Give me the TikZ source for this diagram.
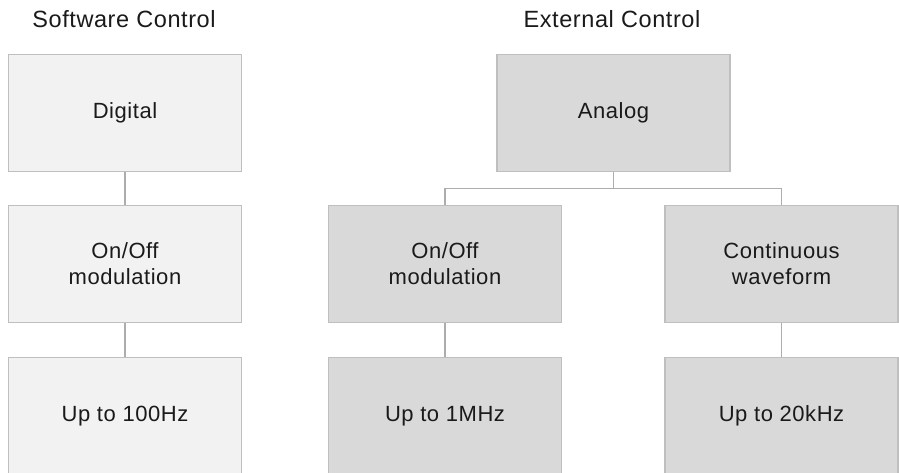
\documentclass[tikz,border=0pt]{standalone}
\usepackage{fontspec}
\setmainfont{Liberation Sans}[LetterSpace=2.5]
\usetikzlibrary{calc}
\definecolor{lightfill}{HTML}{F2F2F2}
\definecolor{darkfill}{HTML}{D9D9D9}
\definecolor{edgegray}{HTML}{BFBFBF}
\definecolor{linkgray}{HTML}{ADADAD}
\definecolor{textdark}{HTML}{1A1A1A}
\begin{document}
\begin{tikzpicture}[x=1pt,y=1pt,
  boxbase/.style={draw=edgegray, line width=1.3pt, minimum width=233pt, minimum height=117pt,
    inner sep=0pt, align=center, text=textdark, font=\fontsize{22}{26}\selectfont},
  softbox/.style={boxbase, fill=lightfill},
  extbox/.style={boxbase, fill=darkfill},
  title/.style={text=textdark, font=\fontsize{23.5}{27}\selectfont, inner sep=0pt},
  link/.style={draw=linkgray, line width=1.1pt}]
\useasboundingbox (0,0) rectangle (899,472);
\begin{scope}
\clip (0,0) rectangle (899,472);
% titles
\node[title] (tsoft) at (124,453) {Software Control};
\node[title] (text) at (612,453) {External Control};
% left column
\node[softbox] (digital) at (125,359) {Digital};
\node[softbox] (onoffA) at (125,208) {On/Off\\modulation};
\node[softbox] (hzA) at (125,56) {Up to 100Hz};
% analog
\node[extbox] (analog) at (613.5,359) {Analog};
\node[extbox] (onoffB) at (445,208) {On/Off\\modulation};
\node[extbox] (contC) at (781.5,208) {Continuous\\waveform};
\node[extbox] (hzB) at (445,56) {Up to 1MHz};
\node[extbox] (hzC) at (781.5,56) {Up to 20kHz};
% connectors
\draw[link] (digital.south) -- (onoffA.north);
\draw[link] (onoffA.south) -- (hzA.north);
\coordinate (junc) at ($(analog.south)+(0,-16.5)$);
\draw[link] (analog.south) -- (junc);
\draw[link] (onoffB.north) |- (junc);
\draw[link] (junc) -| (contC.north);
\draw[link] (onoffB.south) -- (hzB.north);
\draw[link] (contC.south) -- (hzC.north);
\end{scope}
\end{tikzpicture}
\end{document}
